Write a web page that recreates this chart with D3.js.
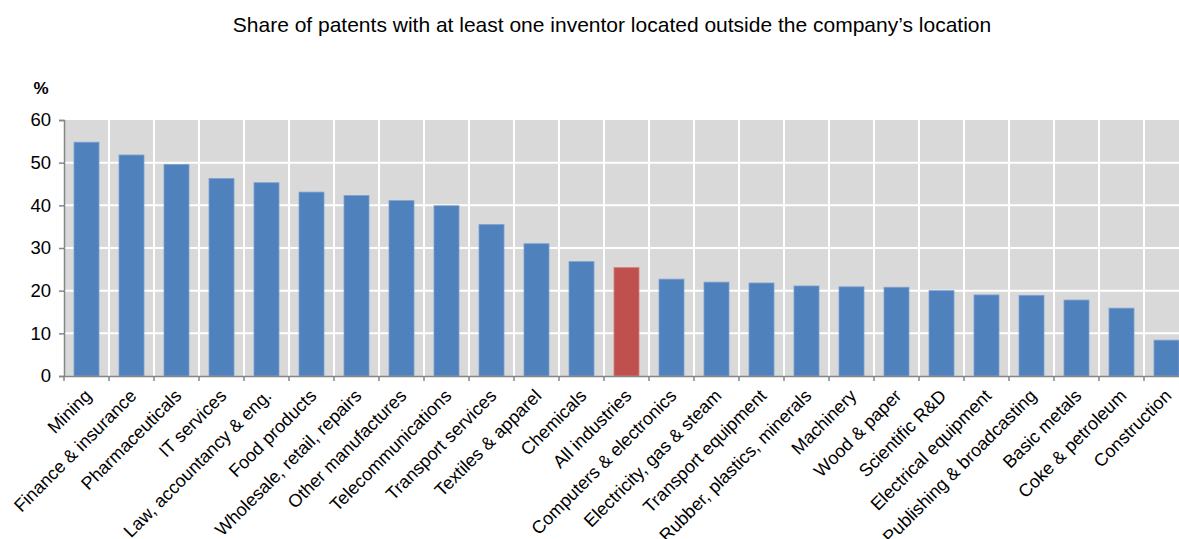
<!DOCTYPE html>
<html>
<head>
<meta charset="utf-8">
<script src="https://cdn.jsdelivr.net/npm/d3@7"></script>
<style>
  body { margin: 0; background: #fff; overflow: hidden; }
  text { font-family: "Liberation Sans", Arial, sans-serif; fill: #000; }
</style>
</head>
<body>
<div id="chart"></div>
<script>
// datos del grafico
var categories = ["Mining", "Finance & insurance", "Pharmaceuticals", "IT services",
  "Law, accountancy & eng.", "Food products", "Wholesale, retail, repairs",
  "Other manufactures", "Telecommunications", "Transport services", "Textiles & apparel",
  "Chemicals", "All industries", "Computers & electronics", "Electricity, gas & steam",
  "Transport equipment", "Rubber, plastics, minerals", "Machinery", "Wood & paper",
  "Scientific R&D", "Electrical equipment", "Publishing & broadcasting", "Basic metals",
  "Coke & petroleum", "Construction"];
var shares = [54.8, 51.8, 49.6, 46.3, 45.3, 43.1, 42.3, 41.1, 39.9, 35.5, 31.0,
  26.8, 25.4, 22.7, 22.0, 21.8, 21.1, 20.9, 20.8, 20.0, 19.0, 18.9, 17.8, 15.9, 8.4];
var highlight = ["All industries"];
var yTicks = [0, 10, 20, 30, 40, 50, 60];

// lienzo
var width = 1179;
var height = 539;
var plotLeft = 64, plotTop = 120, plotBottom = 376;
var band = 45;

var svg = d3.select("#chart")
            .append("svg")
            .attr("width", width)
            .attr("height", height);

var x = d3.scaleBand()
          .domain(categories)
          .range([plotLeft, plotLeft + band * categories.length])
          .paddingInner(0)
          .paddingOuter(0);

var y = d3.scaleLinear()
          .domain([0, 60])
          .range([plotBottom, plotTop]);

// fondo gris
svg.append("rect")
   .attr("x", plotLeft)
   .attr("y", plotTop)
   .attr("width", x.range()[1] - plotLeft)
   .attr("height", plotBottom - plotTop)
   .attr("fill", "#d9d9d9");

// lineas de rejilla horizontales
svg.append("g")
   .selectAll("line")
   .data(yTicks.slice(1, -1))
   .enter()
   .append("line")
   .attr("x1", plotLeft)
   .attr("x2", x.range()[1])
   .attr("y1", d => y(d))
   .attr("y2", d => y(d))
   .attr("stroke", "#fff")
   .attr("stroke-width", 2);

// lineas de rejilla verticales
svg.append("g")
   .selectAll("line")
   .data(categories.slice(1))
   .enter()
   .append("line")
   .attr("x1", d => x(d))
   .attr("x2", d => x(d))
   .attr("y1", plotTop)
   .attr("y2", plotBottom)
   .attr("stroke", "#fff")
   .attr("stroke-width", 2);

// barras
var barW = 25;
svg.append("g")
   .selectAll("rect")
   .data(categories)
   .enter()
   .append("rect")
   .attr("x", d => x(d) + (band - barW) / 2)
   .attr("y", (d, i) => y(shares[i]))
   .attr("width", barW)
   .attr("height", (d, i) => plotBottom - y(shares[i]))
   .attr("fill", d => highlight.includes(d) ? "#c0504d" : "#4f81bd")
   .attr("stroke", d => highlight.includes(d) ? "#d47c7a" : "#7ea1cf")
   .attr("stroke-width", 0.8);

// eje y
var yAxis = d3.axisLeft(y)
              .tickValues(yTicks)
              .tickSize(5)
              .tickPadding(8);
var gy = svg.append("g")
            .attr("transform", `translate(${plotLeft},0)`)
            .call(yAxis);
gy.select(".domain").attr("stroke", "#868686").attr("stroke-width", 1.5);
gy.selectAll(".tick line").attr("stroke", "#868686").attr("stroke-width", 1.5);
gy.selectAll(".tick text")
  .style("font-size", "18.5px")
  .style("font-family", "'Liberation Sans', Arial, sans-serif")
  .attr("fill", "#000");

// eje x
var xAxis = d3.axisBottom(x).tickSize(0).tickFormat("");
var gx = svg.append("g")
            .attr("transform", `translate(0,${plotBottom})`)
            .call(xAxis);
gx.select(".domain").attr("stroke", "#868686").attr("stroke-width", 1.5);

// marcas del eje x en los limites de categoria
svg.append("g")
   .selectAll("line")
   .data(categories)
   .enter()
   .append("line")
   .attr("x1", d => x(d))
   .attr("x2", d => x(d))
   .attr("y1", plotBottom)
   .attr("y2", plotBottom + 5)
   .attr("stroke", "#868686")
   .attr("stroke-width", 1.5);

// etiquetas rotadas
svg.append("g")
   .selectAll("text")
   .data(categories)
   .enter()
   .append("text")
   .attr("text-anchor", "end")
   .attr("transform", d => `translate(${x(d) + band / 2 + 6},${plotBottom + 21}) rotate(-45)`)
   .style("font-size", "18px")
   .text(d => d);

// unidad
svg.append("text")
   .attr("x", 41)
   .attr("y", 94)
   .attr("text-anchor", "middle")
   .style("font-size", "17px")
   .style("font-weight", "bold")
   .text("%");

// titulo
svg.append("text")
   .attr("x", 612)
   .attr("y", 32)
   .attr("text-anchor", "middle")
   .style("font-size", "21px")
   .text("Share of patents with at least one inventor located outside the company\u2019s location");
</script>
</body>
</html>
